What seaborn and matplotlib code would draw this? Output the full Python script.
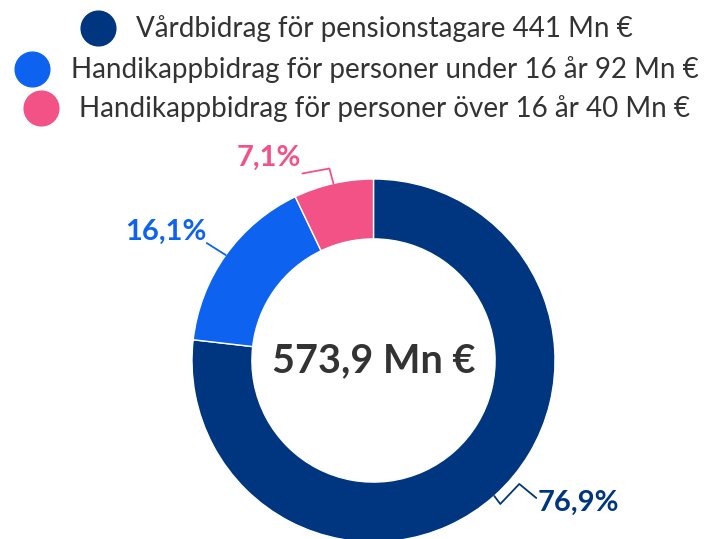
import numpy as np
import matplotlib
matplotlib.use("Agg")
import matplotlib.pyplot as plt
from matplotlib.lines import Line2D
import seaborn as sns

# data
categories = ["Vårdbidrag för pensionstagare",
              "Handikappbidrag för personer under 16 år",
              "Handikappbidrag för personer över 16 år"]
amounts = ["441 Mn €", "92 Mn €", "40 Mn €"]
shares = [76.9, 16.1, 7.1]
share_labels = ["76,9%", "16,1%", "7,1%"]
total_label = "573,9 Mn €"

colors = ["#003680", "#0d63f0", "#f25286"]

sns.set_theme(style="white")
plt.rcParams["font.family"] = ["Lato", "DejaVu Sans"]

W, H = 717, 539
fig = plt.figure(figsize=(W / 100, H / 100), dpi=100)

# donut, center (373.5, 360.5) px, radius 181.5 px
cx, cy, R = 373.5, 360.5, 181.5
ax = fig.add_axes([(cx - R) / W, (H - cy - R) / H, 2 * R / W, 2 * R / H])
wedges, _ = ax.pie(shares, colors=colors, startangle=90, counterclock=False,
                   radius=1, wedgeprops=dict(width=0.33, edgecolor="white", linewidth=1))
ax.set_xlim(-1, 1)
ax.set_ylim(-1, 1)
ax.axis("off")

ax.text(0, 0, total_label, ha="center", va="center", fontsize=28.5,
        fontweight="bold", color="#333333")

# connector paths (pixel offsets from slice midpoint, y down) and text anchor
paths = [
    [(0, 0), (6, 8), (25, -12), (42, 2)],
    [(0, 0), (-19, -12)],
    [(0, 0), (-4, -15), (-31, -10)],
]
text_pos = [((43, 7), "left"), ((-19, -23), "right"), ((-32, -26), "right")]

for i, w in enumerate(wedges):
    mid = np.deg2rad((w.theta1 + w.theta2) / 2)
    ax_, ay_ = np.cos(mid), np.sin(mid)
    pts = np.array(paths[i], dtype=float)
    xs = ax_ + pts[:, 0] / R
    ys = ay_ - pts[:, 1] / R
    ax.plot(xs, ys, color=colors[i], lw=1.3, clip_on=False)
    (tx, ty), ha = text_pos[i]
    ax.text(ax_ + tx / R, ay_ - ty / R, share_labels[i], ha=ha, va="center",
            fontsize=21, fontweight="bold", color=colors[i], clip_on=False)

# legend, one centered row per entry
row_y = [29, 70, 109]
for i, cat in enumerate(categories):
    h = Line2D([], [], marker="o", linestyle="none", markersize=25,
               markerfacecolor=colors[i], markeredgecolor=colors[i])
    fig.legend([h], [f"{cat} {amounts[i]}"], loc="center",
               bbox_to_anchor=(0.5, 1 - row_y[i] / H), frameon=False,
               fontsize=20, handlelength=1.0, handletextpad=0.88,
               borderpad=0, labelcolor="#333333")

fig.savefig("out.png", dpi=100)
